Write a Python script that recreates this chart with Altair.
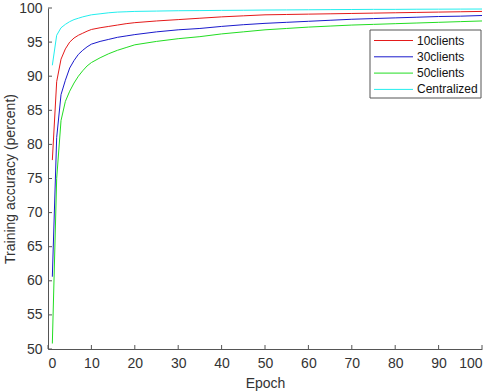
import altair as alt
import pandas as pd

# Training accuracy (%) per epoch for each training setup
epochs = [1, 2, 3, 4, 5, 6, 7, 8, 9, 10, 12, 14, 16, 18, 20, 25, 30, 35, 40, 45,
          50, 55, 60, 65, 70, 75, 80, 85, 90, 95, 100]

acc_10clients = [77.7, 89.2, 92.5, 94.0, 95.0, 95.6, 96.0, 96.3, 96.6, 96.85, 97.1, 97.3,
                 97.5, 97.7, 97.85, 98.1, 98.3, 98.5, 98.7, 98.85, 99.0, 99.05, 99.1,
                 99.15, 99.2, 99.25, 99.3, 99.35, 99.4, 99.45, 99.5]
acc_30clients = [60.6, 81.0, 87.3, 89.4, 91.2, 92.3, 93.2, 93.8, 94.3, 94.7, 95.1, 95.4,
                 95.7, 95.9, 96.1, 96.5, 96.8, 97.0, 97.3, 97.55, 97.75, 97.9, 98.05,
                 98.2, 98.35, 98.45, 98.55, 98.65, 98.75, 98.8, 98.9]
acc_50clients = [50.8, 75.0, 83.5, 86.3, 87.8, 89.0, 90.0, 90.8, 91.5, 92.0, 92.7, 93.3,
                 93.8, 94.2, 94.6, 95.1, 95.5, 95.8, 96.2, 96.5, 96.8, 97.0, 97.2,
                 97.35, 97.5, 97.6, 97.7, 97.8, 97.9, 98.0, 98.1]
acc_centralized = [91.6, 96.0, 97.1, 97.6, 98.0, 98.3, 98.5, 98.7, 98.85, 99.0, 99.15, 99.3,
                   99.4, 99.45, 99.5, 99.55, 99.6, 99.62, 99.65, 99.67, 99.7, 99.72, 99.74,
                   99.76, 99.78, 99.8, 99.8, 99.82, 99.83, 99.84, 99.85]

series_names = ["10clients", "30clients", "50clients", "Centralized"]
series_colors = ["#e41a1a", "#1a1acc", "#22dd22", "#22eeee"]
series_values = [acc_10clients, acc_30clients, acc_50clients, acc_centralized]

x_ticks = [0, 10, 20, 30, 40, 50, 60, 70, 80, 90, 100]
y_ticks = [50, 55, 60, 65, 70, 75, 80, 85, 90, 95, 100]

W, H = 434, 341
FONT = "Liberation Sans"
AXIS_GRAY = "#555555"
TEXT_GRAY = "#333333"

rows = []
for name, vals in zip(series_names, series_values):
    for e, v in zip(epochs, vals):
        rows.append({"epoch": e, "accuracy": v, "series": name})
df = pd.DataFrame(rows)

x_scale = alt.Scale(domain=[0, 100], nice=False, zero=False)
y_scale = alt.Scale(domain=[50, 100], nice=False, zero=False)

# Shared axis definitions so every layer merges into the same axes
x_axis = alt.Axis(title="Epoch", values=x_ticks, ticks=False, grid=False,
                  labelPadding=7, titlePadding=6, format="d", labelOverlap=False)
y_axis = alt.Axis(title="Training accuracy (percent)", values=y_ticks, ticks=False,
                  grid=False, labelPadding=6, titlePadding=1, format="d",
                  labelOverlap=False)

lines = alt.Chart(df).mark_line(strokeWidth=1, clip=True).encode(
    x=alt.X("epoch:Q", scale=x_scale, axis=x_axis, title="Epoch"),
    y=alt.Y("accuracy:Q", scale=y_scale, axis=y_axis, title="Training accuracy (percent)"),
    color=alt.Color("series:N", scale=alt.Scale(domain=series_names, range=series_colors),
                    legend=None),
    detail="series:N",
)

# Inward-pointing tick marks on both axes
x_tick_marks = alt.Chart(pd.DataFrame({"t": x_ticks})).mark_rule(
    color=AXIS_GRAY, strokeWidth=1
).encode(x=alt.X("t:Q", scale=x_scale, axis=x_axis, title="Epoch"),
         y=alt.value(H), y2=alt.value(H - 4))

y_tick_marks = alt.Chart(pd.DataFrame({"t": y_ticks})).mark_rule(
    color=AXIS_GRAY, strokeWidth=1
).encode(y=alt.Y("t:Q", scale=y_scale, axis=y_axis, title="Training accuracy (percent)"),
         x=alt.value(0), x2=alt.value(4))

# Legend box with line samples and labels
LX0, LX1, LY0, LY1 = 322, 433, 22, 90
legend_box = alt.Chart(pd.DataFrame({"k": [0]})).mark_rect(
    fill="white", stroke=AXIS_GRAY, strokeWidth=1
).encode(x=alt.value(LX0), x2=alt.value(LX1), y=alt.value(LY0), y2=alt.value(LY1))

legend_layers = [legend_box]
for i, (name, col) in enumerate(zip(series_names, series_colors)):
    yy = 32.5 + i * 16.3
    legend_layers.append(
        alt.Chart(pd.DataFrame({"label": [name]})).mark_rule(color=col, strokeWidth=1).encode(
            x=alt.value(326), x2=alt.value(365), y=alt.value(yy)
        )
    )
    legend_layers.append(
        alt.Chart(pd.DataFrame({"label": [name]})).mark_text(
            align="left", baseline="middle", font=FONT, fontSize=12, color="#111111"
        ).encode(x=alt.value(369), y=alt.value(yy), text="label:N")
    )

chart = alt.layer(lines, x_tick_marks, y_tick_marks, *legend_layers).properties(
    width=W, height=H,
    autosize=alt.AutoSizeParams(type="none"),
    padding={"left": 48, "top": 8, "right": 14, "bottom": 43},
    background="white",
).configure_view(stroke=None).configure_axis(
    domainColor=AXIS_GRAY, domainWidth=1, labelOverlap=False,
    labelFont=FONT, labelFontSize=14, labelColor=TEXT_GRAY,
    titleFont=FONT, titleFontSize=14, titleFontWeight="normal", titleColor=TEXT_GRAY,
)

chart.save("out.html", embed_options={"renderer": "svg", "actions": False})
